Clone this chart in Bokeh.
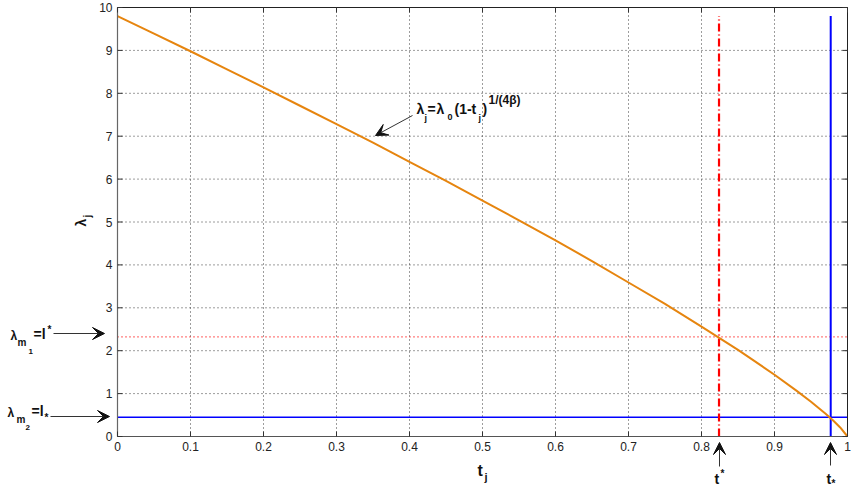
from bokeh.plotting import figure
from bokeh.models import Range1d, Label, Arrow, VeeHead
from bokeh.core.properties import value
from bokeh.embed import file_html
from bokeh.resources import INLINE

# ---- data ----
t_vals = [0, 0.05, 0.1, 0.15, 0.2, 0.25, 0.3, 0.35, 0.4, 0.45, 0.5, 0.55, 0.6,
          0.65, 0.7, 0.75, 0.8, 0.85, 0.9, 0.93, 0.95, 0.97, 0.98, 0.99, 1.0]
lam_vals = [9.80, 9.39, 8.98, 8.56, 8.14, 7.71, 7.28, 6.85, 6.40, 5.96, 5.50, 5.04, 4.57,
            4.09, 3.59, 3.09, 2.56, 2.02, 1.44, 1.07, 0.81, 0.53, 0.38, 0.21, 0.0]
t_star = 0.824        # red dash-dot vertical
t_sub = 0.977         # blue vertical
l_star = 2.32         # red dotted horizontal
l_sub = 0.45          # blue horizontal
vline_top = 9.8
x_min, x_max = 0, 1
y_min, y_max = 0, 10
x_ticks = [0, 0.1, 0.2, 0.3, 0.4, 0.5, 0.6, 0.7, 0.8, 0.9, 1]
x_tick_labels = ["0", "0.1", "0.2", "0.3", "0.4", "0.5", "0.6", "0.7", "0.8", "0.9", "1"]
y_ticks = [0, 1, 2, 3, 4, 5, 6, 7, 8, 9, 10]
y_tick_labels = ["0", "1", "2", "3", "4", "5", "6", "7", "8", "9", "10"]

# ---- geometry: the frame covers the whole canvas; axes box sits at these pixels ----
W, H = 853, 488
PX_L, PX_R, PX_T, PX_B = 117, 847, 7, 436
FONT = "Liberation Sans"
KX = (PX_R - PX_L) / (x_max - x_min)   # px per x unit
KY = (PX_B - PX_T) / (y_max - y_min)   # px per y unit


def dx(px):
    return x_min + (px - PX_L) / KX


def dy(py):
    return y_min + (PX_B - py) / KY


p = figure(width=W, height=H, x_range=Range1d(dx(0), dx(W)), y_range=Range1d(dy(H), dy(0)),
           output_backend="svg", toolbar_location=None,
           x_axis_location=None, y_axis_location=None,
           min_border_left=0, min_border_right=0, min_border_top=0, min_border_bottom=0)
p.grid.visible = False
p.outline_line_color = None
p.background_fill_color = "white"
p.border_fill_color = "white"

nx, ny = len(x_ticks), len(y_ticks)

# grid (dotted)
p.segment(x0=x_ticks, y0=[y_min] * nx, x1=x_ticks, y1=[y_max] * nx,
          line_color="#3a3a3a", line_width=1, line_dash="1 3")
p.segment(x0=[x_min] * ny, y0=y_ticks, x1=[x_max] * ny, y1=y_ticks,
          line_color="#3a3a3a", line_width=1, line_dash="1 3")

# ---- marks ----
p.line([x_min, x_max], [l_star, l_star], line_color="red", line_width=1.2, line_dash="1 3")
p.line([x_min, x_max], [l_sub, l_sub], line_color="#0000FF", line_width=1.6)
p.line([t_star, t_star], [y_min, vline_top], line_color="red", line_width=2.2, line_dash="8 3 1 3")
p.line([t_sub, t_sub], [y_min, vline_top], line_color="#0000FF", line_width=2)
p.line(t_vals, lam_vals, line_color="#E6850F", line_width=2)

# box (left/bottom grey, top/right dark)
p.line([x_min, x_max], [y_max, y_max], line_color="#222222", line_width=1)
p.line([x_max, x_max], [y_min, y_max], line_color="#222222", line_width=1)
p.line([x_min, x_max], [y_min, y_min], line_color="#555555", line_width=1.2)
p.line([x_min, x_min], [y_min, y_max], line_color="#666666", line_width=1.2)

# inward ticks on all four sides
TL = 5.0
p.segment(x0=x_ticks, y0=[y_min] * nx, x1=x_ticks, y1=[y_min + TL / KY] * nx,
          line_color="#333333", line_width=1)
p.segment(x0=x_ticks, y0=[y_max] * nx, x1=x_ticks, y1=[y_max - TL / KY] * nx,
          line_color="#333333", line_width=1)
p.segment(x0=[x_min] * ny, y0=y_ticks, x1=[x_min + TL / KX] * ny, y1=y_ticks,
          line_color="#333333", line_width=1)
p.segment(x0=[x_max] * ny, y0=y_ticks, x1=[x_max - TL / KX] * ny, y1=y_ticks,
          line_color="#333333", line_width=1)

# tick labels
p.text(x=x_ticks, y=[y_min - 5 / KY] * nx, text=x_tick_labels,
       text_font=value(FONT), text_font_size="12px", text_color="#222222",
       text_align="center", text_baseline="top")
p.text(x=[x_min - 5 / KX] * ny, y=y_ticks, text=y_tick_labels,
       text_font=value(FONT), text_font_size="12px", text_color="#222222",
       text_align="right", text_baseline="middle")


# ---- annotations (positioned in page pixels, converted to data units) ----
def put(text, px, py, size, angle=0.0):
    p.add_layout(Label(x=dx(px), y=dy(py), text=text, text_font=FONT,
                       text_font_size=f"{size}px", text_font_style="bold",
                       text_baseline="alphabetic", text_align="left",
                       angle=angle, text_color="#111111"))


def arrow(x0, y0, x1, y1):
    p.add_layout(Arrow(x_start=dx(x0), y_start=dy(y0), x_end=dx(x1), y_end=dy(y1),
                       line_color="#333333", line_width=1,
                       end=VeeHead(size=12, fill_color="#111111", line_color="#111111",
                                   line_width=1)))


# formula
put("λ", 416, 108, 14)
put("j", 424, 117, 9)
put("=", 427, 108, 14)
put("λ", 436, 108, 14)
put("0", 447, 116, 9)
put("(1-t", 454, 108, 14)
put("j", 478, 117, 9)
put(")", 482, 108, 14)
put("1/(4β)", 488, 99, 12)
arrow(412, 115, 375, 135)

# lambda_m1 = l*
put("λ", 10, 335, 12)
put("m", 17, 342, 10)
put("1", 28, 351, 8)
put("=l", 33, 333, 14)
put("*", 47, 329, 10)
arrow(53, 333, 104, 333)

# lambda_m2 = l_*
put("λ", 7, 412, 12)
put("m", 16, 419, 10)
put("2", 25, 427, 8)
put("=l", 31, 410, 14)
put("*", 44, 417, 10)
arrow(50, 416, 109, 416)

# t* and t_* below the axis
arrow(719, 466, 719, 442)
put("t", 714, 478, 14)
put("*", 720, 473, 10)
arrow(830, 465, 830, 442)
put("t", 826, 478, 14)
put("*", 831, 483, 10)

# axis labels
put("t", 477, 470, 16)
put("j", 484, 476, 11)
put("λ", 80, 226, 14, angle=1.5708)
put("j", 87, 217, 10, angle=1.5708)

open("out.html", "w").write(file_html(p, INLINE))
